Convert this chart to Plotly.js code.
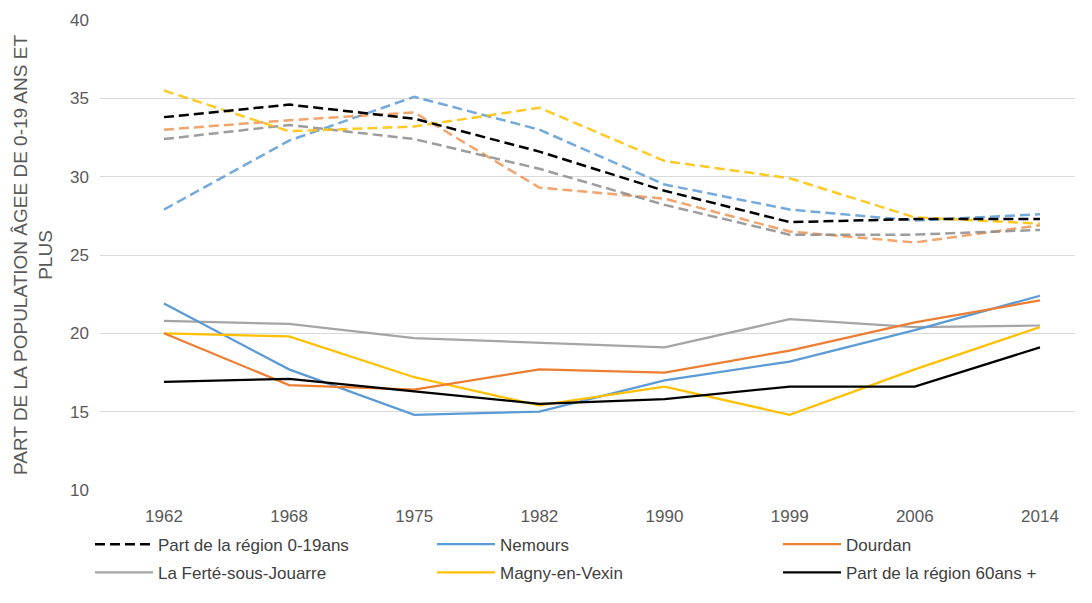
<!DOCTYPE html>
<html><head><meta charset="utf-8">
<script src="https://cdn.plot.ly/plotly-3.0.1.min.js"></script>
<style>body{margin:0;background:#fff}#c{width:1092px;height:603px}</style>
</head><body><div id="c"></div>
<script>
const years = ["1962","1968","1975","1982","1990","1999","2006","2014"];
// Part des 0-19 ans (pointillés)
const region019 = [33.8,34.6,33.7,31.6,29.1,27.1,27.3,27.3];
const nemours019 = [27.9,32.3,35.1,33.0,29.5,27.9,27.2,27.6];
const dourdan019 = [33.0,33.6,34.1,29.3,28.6,26.5,25.8,26.9];
const ferte019 = [32.4,33.3,32.4,30.5,28.2,26.3,26.3,26.6];
const magny019 = [35.5,32.9,33.2,34.4,31.0,29.9,27.4,27.0];
// Part des 60 ans et plus (traits pleins)
const nemours60 = [21.9,17.7,14.8,15.0,17.0,18.2,20.2,22.4];
const dourdan60 = [20.0,16.7,16.4,17.7,17.5,18.9,20.7,22.1];
const ferte60 = [20.8,20.6,19.7,19.4,19.1,20.9,20.4,20.5];
const magny60 = [20.0,19.8,17.2,15.4,16.6,14.8,17.7,20.4];
const region60 = [16.9,17.1,16.3,15.5,15.8,16.6,16.6,19.1];

const C = {blue:"#5B9BD5", orange:"#ED7D31", gray:"#A5A5A5", yellow:"#FFC000", black:"#000000"};
const DASH = "10px,5px";
function tr(y, name, color, dash, width, opts){
  return Object.assign({type:"scatter", mode:"lines", x:years, y:y, name:name,
    line:{color:color, width:width, dash:dash}, hoverinfo:"x+y+name"}, opts||{});
}
const data = [
  tr(nemours019,"Nemours 0-19",C.blue,DASH,2.5,{showlegend:false, opacity:0.85}),
  tr(dourdan019,"Dourdan 0-19",C.orange,DASH,2.5,{showlegend:false, opacity:0.7}),
  tr(ferte019,"La Ferté 0-19","#8C8C8C",DASH,2.5,{showlegend:false, opacity:0.85}),
  tr(magny019,"Magny 0-19",C.yellow,DASH,2.5,{showlegend:false, opacity:0.85}),
  tr(region019,"Part de la région 0-19ans",C.black,DASH,2.5,{legend:"legend", legendgroup:"a"}),
  tr(ferte60,"La Ferté-sous-Jouarre",C.gray,"solid",2.25,{legend:"legend", legendgroup:"b"}),
  tr(nemours60,"Nemours",C.blue,"solid",2.25,{legend:"legend2", legendgroup:"c"}),
  tr(magny60,"Magny-en-Vexin",C.yellow,"solid",2.25,{legend:"legend2", legendgroup:"d"}),
  tr(dourdan60,"Dourdan",C.orange,"solid",2.25,{legend:"legend3", legendgroup:"e"}),
  tr(region60,"Part de la région 60ans +",C.black,"solid",2.25,{legend:"legend3", legendgroup:"f"})
];
const FAM = "Liberation Sans, Arial, sans-serif";
const font = {family:FAM, size:17, color:"#595959"};
function leg(x){
  return {orientation:"v", xanchor:"left", x:x, yanchor:"top", y:-0.078,
    font:{family:FAM,size:17,color:"#404040"}, tracegroupgap:3,
    bgcolor:"rgba(0,0,0,0)", itemwidth:58, traceorder:"grouped"};
}
const layout = {
  width:1092, height:603,
  margin:{l:100, r:17, t:20, b:113},
  paper_bgcolor:"#fff", plot_bgcolor:"#fff",
  font:font,
  showlegend:true,
  xaxis:{type:"category", range:[-0.511,7.28], showgrid:false, zeroline:false,
    showline:false, ticks:"", tickfont:{size:17,color:"#595959"}, ticklabelstandoff:14},
  yaxis:{range:[10,40], dtick:5, tick0:10, showgrid:true, gridcolor:"#D9D9D9", gridwidth:1,
    zeroline:false, showline:false, ticks:"", tickfont:{size:17,color:"#595959"}, ticklabelstandoff:10,
    title:{text:"PART DE LA POPULATION ÂGEE DE 0-19 ANS ET<br>PLUS", font:{size:19,color:"#595959"}, standoff:12}},
  legend:leg(-0.0103),
  legend2:leg(0.3405),
  legend3:leg(0.6954)
};
Plotly.newPlot("c", data, layout, {displayModeBar:false, staticPlot:true});
</script></body></html>
